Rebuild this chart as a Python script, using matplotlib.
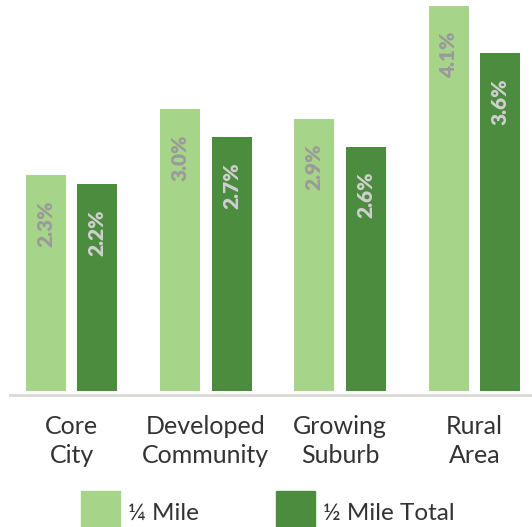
import matplotlib
matplotlib.use("Agg")
import matplotlib.pyplot as plt
from matplotlib.patches import Rectangle

plt.rcParams['font.family'] = ['Lato', 'DejaVu Sans']

categories = ["Core\nCity", "Developed\nCommunity", "Growing\nSuburb", "Rural\nArea"]
quarter_mile = [2.3, 3.0, 2.9, 4.1]
half_mile_total = [2.2, 2.7, 2.6, 3.6]
series_names = ["¼ Mile", "½ Mile Total"]

light_green = "#a6d489"
dark_green = "#4b8c3f"
text_dark = "#333333"

W, H = 532, 527
fig = plt.figure(figsize=(W / 100, H / 100), dpi=100)
ax = fig.add_axes([10 / W, 136 / H, 522 / W, 391 / H])

x = list(range(len(categories)))
width = 0.298
off = 0.192
b1 = ax.bar([i - off for i in x], quarter_mile, width, color=light_green)
b2 = ax.bar([i + off for i in x], half_mile_total, width, color=dark_green)

for bars, vals, col in ((b1, quarter_mile, "#9a9a9a"), (b2, half_mile_total, "#cfcfcf")):
    for bar, v in zip(bars, vals):
        ax.annotate(f"{v:.1f}%", (bar.get_x() + bar.get_width() / 2, v),
                    xytext=(0, -25), textcoords="offset pixels",
                    rotation=90, ha="center", va="top",
                    fontsize=15, fontweight="heavy", color=col)

ax.set_xlim(-0.458, 3.429)
ax.set_ylim(0, 4.164)
for s in ax.spines.values():
    s.set_visible(False)
ax.set_yticks([])
ax.set_xticks(x)
ax.set_xticklabels(categories, fontsize=18, color=text_dark, linespacing=1.35)
ax.tick_params(axis="x", length=0, pad=17)
ax.axhline(-0.045, color="#d9ddd5", lw=2.2, clip_on=False)

# legend drawn as swatches and labels along the bottom
swatches = [(81, light_green), (276, dark_green)]
for (sx, c), name in zip(swatches, series_names):
    fig.patches.append(Rectangle((sx / W, 0 / H), 39 / W, 36 / H,
                                 transform=fig.transFigure, color=c))
    fig.text((sx + 47) / W, 7 / H, name, fontsize=17.5, color=text_dark,
             ha="left", va="baseline")

fig.savefig("out.png", dpi=100)
